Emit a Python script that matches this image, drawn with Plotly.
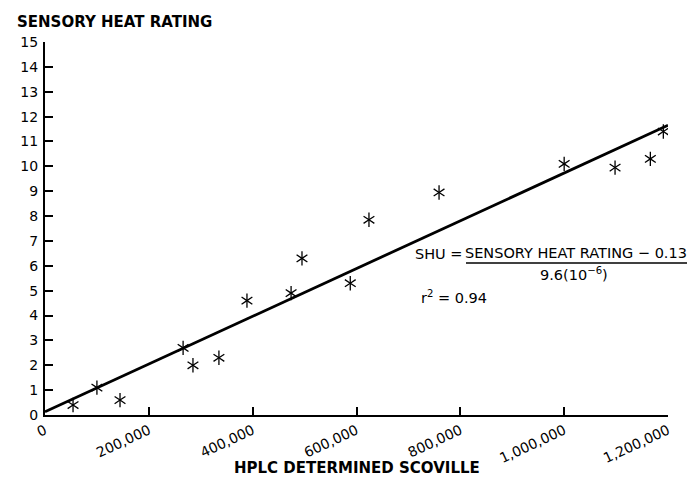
import plotly.graph_objects as go

# Data
hplc_scoville = [54000, 100000, 144500, 266000, 285000, 335000, 389000, 474000,
                 495000, 588000, 624000, 759000, 1000000, 1098000, 1166000, 1191000]
sensory_heat = [0.4, 1.1, 0.6, 2.7, 2.0, 2.3, 4.6, 4.9,
                6.3, 5.3, 7.85, 8.95, 10.1, 9.95, 10.3, 11.4]

fit_intercept = 0.13
fit_slope = 9.6e-6
fit_x = [0, 1200000]
fit_y = [fit_intercept + fit_slope * v for v in fit_x]

x_tick_vals = [0, 200000, 400000, 600000, 800000, 1000000, 1200000]
x_tick_text = ["0", "200,000", "400,000", "600,000", "800,000", "1,000,000", "1,200,000"]
x_tick_marks = [200000, 400000, 600000, 800000, 1000000]
y_tick_vals = list(range(0, 16))
y_tick_marks = list(range(1, 15))

FONT = "DejaVu Sans"
OFF = 8  # page body margin
W, H = 699 - OFF, 481 - OFF
L, R, T, B = 45, 668, 42, 415  # plot area in screen pixels


def px(x):
    return (x - L) / (R - L)


def py(y):
    return (B - y) / (B - T)


fig = go.Figure()
fig.add_trace(go.Scatter(x=fit_x, y=fit_y, mode="lines",
                         line=dict(color="black", width=2.8), showlegend=False,
                         hoverinfo="skip"))
for sym in ["y-up-open", "y-down-open"]:
    fig.add_trace(go.Scatter(x=hplc_scoville, y=sensory_heat, mode="markers",
                             marker=dict(symbol=sym, size=9, color="black",
                                         line=dict(color="black", width=1.3)),
                             showlegend=False))

axis_common = dict(showgrid=False, zeroline=False, color="black")
fig.update_layout(
    width=W, height=H,
    margin=dict(l=L - OFF, r=W - (R - OFF), t=T - OFF, b=H - (B - OFF)),
    plot_bgcolor="white", paper_bgcolor="white",
    font=dict(family=FONT, size=14, color="black"),
    xaxis=dict(range=[0, 1200000], tickvals=x_tick_vals, ticktext=x_tick_text,
               tickangle=-25, ticks="", showline=True, linewidth=2.2, linecolor="black",
               tickfont=dict(size=14), automargin=False, **axis_common),
    yaxis=dict(range=[0, 15], tickvals=y_tick_vals, ticks="", showline=True,
               linewidth=2.2, linecolor="black", tickfont=dict(size=14),
               ticklabelstandoff=2, automargin=False, **axis_common),
    xaxis2=dict(range=[0, 1200000], overlaying="x", tickvals=x_tick_marks,
                ticks="inside", ticklen=8, tickwidth=2, tickcolor="black",
                showticklabels=False, showline=False, **axis_common),
    yaxis2=dict(range=[0, 15], overlaying="y", tickvals=y_tick_marks,
                ticks="inside", ticklen=8, tickwidth=2, tickcolor="black",
                showticklabels=False, showline=False, **axis_common),
)
# invisible trace to activate overlay axes
fig.add_trace(go.Scatter(x=[None], y=[None], xaxis="x2", yaxis="y2",
                         showlegend=False, hoverinfo="skip"))

annots = [
    dict(text="<b>SENSORY HEAT RATING</b>", x=px(15), y=py(22), xanchor="left",
         yanchor="middle", font=dict(size=15)),
    dict(text="<b>HPLC DETERMINED SCOVILLE</b>", x=px(357), y=py(468), xanchor="center",
         yanchor="middle", font=dict(size=15)),
    dict(text="SHU =", x=px(413), y=py(254), xanchor="left", yanchor="middle",
         font=dict(size=14.5)),
    dict(text="SENSORY HEAT RATING \u2212 0.13", x=px(576), y=py(253), xanchor="center",
         yanchor="middle", font=dict(size=14.5)),
    dict(text="9.6(10<sup>\u22126</sup>)", x=px(574), y=py(274), xanchor="center",
         yanchor="middle", font=dict(size=14.5)),
    dict(text="r<sup>2</sup> = 0.94", x=px(419), y=py(297), xanchor="left",
         yanchor="middle", font=dict(size=14.5)),
]
for a in annots:
    fig.add_annotation(xref="paper", yref="paper", showarrow=False, **a)

fig.add_shape(type="line", xref="paper", yref="paper", x0=px(466), x1=px(687),
              y0=py(263), y1=py(263), line=dict(color="black", width=1.5))

fig.write_html("out.html")
